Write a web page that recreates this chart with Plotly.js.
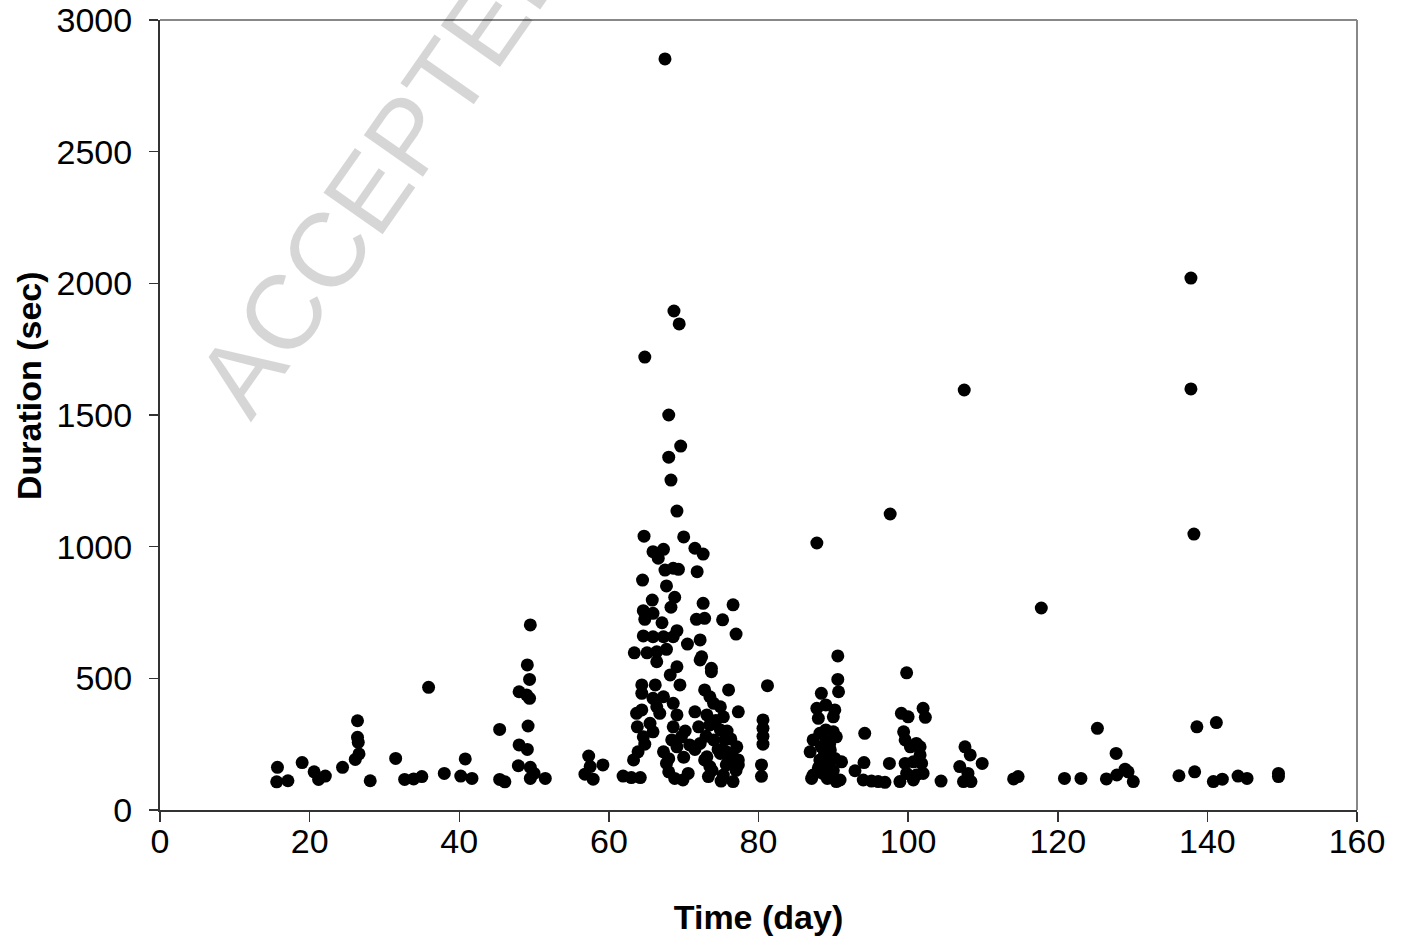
<!DOCTYPE html>
<html><head><meta charset="utf-8">
<script src="https://cdn.plot.ly/plotly-3.0.1.min.js"></script>
<style>html,body{margin:0;padding:0;background:#fff}#chart{width:1403px;height:940px}</style>
</head><body><div id="chart"></div>
<script>
// Time (day) of each event
const timeDay = [
  15.7,15.6,17.1,19.0,20.6,21.2,22.1,24.4,26.4,26.4,26.5,26.6,26.1,28.1,31.5,32.7,33.9,35.0,35.9,38.0,
  40.8,40.2,41.7,45.4,45.4,46.1,49.1,49.4,48.0,49.0,49.4,49.2,48.0,49.1,47.9,49.5,49.5,50.0,51.5,49.5,
  57.3,56.8,57.9,59.2,57.5,61.9,63.0,64.2,63.3,63.9,
  67.5,68.7,69.4,64.8,68.0,69.6,68.0,68.3,69.1,64.7,70.0,
  65.9,67.3,66.6,71.5,72.6,67.5,68.6,69.3,71.8,64.5,67.7,68.8,65.8,68.3,72.6,76.6,64.6,65.9,64.8,67.1,
  71.7,72.8,75.2,77.0,64.6,65.9,67.3,68.6,69.1,70.5,72.2,63.4,65.1,66.4,67.7,66.4,72.4,69.1,73.7,
  68.2,72.2,73.7,64.4,66.2,69.5,72.8,76.0,81.2,64.4,65.9,67.3,68.6,73.5,74.0,74.9,77.3,63.7,64.4,66.4,
  66.8,69.1,71.5,73.1,75.3,80.6,63.8,65.5,68.6,72.0,73.5,74.9,64.6,65.9,68.4,69.7,70.8,72.2,74.0,75.5,
  77.1,80.6,80.6,80.6,67.3,69.1,73.1,74.9,75.7,76.6,77.3,67.7,73.5,75.7,77.3,80.4,80.4,68.8,69.9,70.6,
  73.3,76.6,75.3,
  73.0,74.3,75.8,76.3,74.6,76.0,73.8,75.0,77.0,72.8,71.5,70.2,64.8,70.0,68.0,68.0,
  87.8,90.6,90.6,90.7,88.4,87.8,90.2,88.0,90.0,89.0,89.0,90.0,88.2,90.4,87.3,86.9,88.4,89.6,88.2,89.1,
  90.2,91.1,87.3,88.6,89.8,90.9,87.1,90.4,89.0,89.5,88.8,89.4,90.0,88.0,89.2,
  94.2,94.1,92.9,94.0,95.1,96.0,96.9,97.5,97.6,98.9,
  99.8,99.1,100.0,102.0,102.3,99.4,99.6,101.1,100.3,101.6,101.6,99.6,100.7,101.8,99.8,101.1,102.0,100.7,104.4,
  107.5,107.6,108.3,106.9,108.0,107.4,108.4,109.9,114.1,114.7,117.8,
  120.9,123.1,125.3,127.8,126.5,127.9,129.0,129.4,130.1,
  136.2,137.8,137.8,138.2,138.3,138.6,141.2,140.8,142.0,144.1,145.3,149.5,149.5
];
// Duration (sec) of each event
const durationSec = [
  162,107,111,180,145,116,129,162,339,276,257,213,192,111,196,116,118,127,466,139,
  194,129,120,306,116,107,551,496,449,437,424,319,247,230,168,162,120,139,120,703,
  205,136,117,171,165,129,123,123,190,221,
  2852,1895,1846,1720,1500,1382,1340,1253,1135,1040,1037,
  981,990,956,994,972,911,918,914,905,873,851,808,797,770,785,779,757,747,724,711,
  724,728,722,668,661,658,658,658,681,630,646,597,597,601,610,563,582,544,538,
  513,570,525,475,475,475,456,456,472,443,424,430,405,430,405,392,373,367,380,392,
  367,361,373,361,354,342,316,329,316,316,323,304,278,297,266,278,247,253,266,266,
  240,310,280,250,221,240,202,215,221,202,190,177,165,171,171,171,128,120,114,139,
  127,108,133,
  280,340,300,270,230,190,150,110,150,190,230,300,250,200,195,145,
  1014,585,496,449,443,386,380,348,354,399,304,297,291,278,266,221,240,228,190,183,
  196,183,133,139,127,114,120,108,260,250,210,160,150,160,120,
  291,180,149,114,110,108,105,177,1124,108,
  521,367,354,386,352,297,266,253,240,240,209,177,183,177,139,133,139,114,110,
  1595,240,209,165,139,108,108,177,118,127,767,
  120,120,310,215,118,133,155,145,108,
  130,2020,1599,1048,145,316,332,108,117,129,120,139,127
];
const xTickVals = [0,20,40,60,80,100,120,140,160];
const yTickVals = [0,500,1000,1500,2000,2500,3000];
const xTitle = 'Time (day)';
const yTitle = 'Duration (sec)';
const watermark = 'ACCEPTED';

const FONT = 'Liberation Sans, Arial, sans-serif';
const FS = 34;

const trace = {
  type: 'scatter', mode: 'markers',
  x: timeDay, y: durationSec,
  marker: {color: '#000000', size: 13, line: {width: 0}},
  cliponaxis: false, hoverinfo: 'x+y'
};

const layout = {
  width: 1403, height: 940,
  margin: {l: 160, r: 46, t: 20, b: 130},
  paper_bgcolor: '#ffffff', plot_bgcolor: '#ffffff',
  showlegend: false,
  font: {family: FONT, size: FS, color: '#000'},
  xaxis: {
    range: [0, 160], tickvals: xTickVals, ticktext: xTickVals.map(String),
    showgrid: false, zeroline: false,
    showline: true, linecolor: '#333333', linewidth: 2,
    ticks: 'outside', ticklen: 10, tickwidth: 1.5, tickcolor: '#333333',
    tickfont: {family: FONT, size: FS, color: '#000'},
    ticklabelstandoff: -10,
    automargin: false,
    title: {text: xTitle, font: {family: FONT, size: FS, color: '#000', weight: 'bold'}, standoff: 46}
  },
  yaxis: {
    range: [0, 3000], tickvals: yTickVals, ticktext: yTickVals.map(String),
    showgrid: false, zeroline: false,
    showline: true, linecolor: '#333333', linewidth: 2,
    ticks: 'outside', ticklen: 9, tickwidth: 1.5, tickcolor: '#333333',
    tickfont: {family: FONT, size: FS, color: '#000'},
    ticklabelstandoff: 10,
    automargin: false,
    title: {text: ''}
  },
  shapes: [
    {type: 'line', xref: 'paper', yref: 'paper', x0: 0, x1: 1, y0: 1, y1: 1, line: {color: '#888888', width: 2}},
    {type: 'line', xref: 'paper', yref: 'paper', x0: 1, x1: 1, y0: 0, y1: 1, line: {color: '#888888', width: 2}}
  ],
  annotations: [
    {text: watermark, xref: 'paper', yref: 'paper', x: 0.188, y: 0.813,
     xanchor: 'center', yanchor: 'middle', showarrow: false, textangle: -55,
     font: {family: FONT, size: 105, color: 'rgba(0,0,0,0.16)'}},
    {text: '<b>' + yTitle + '</b>', xref: 'paper', yref: 'paper',
     x: (29 - 160) / 1197, y: (810 - 386) / 790,
     xanchor: 'center', yanchor: 'middle', showarrow: false, textangle: -90,
     font: {family: FONT, size: FS, color: '#000'}}
  ]
};

Plotly.newPlot('chart', [trace], layout, {displayModeBar: false, staticPlot: true});
</script>
</body></html>
